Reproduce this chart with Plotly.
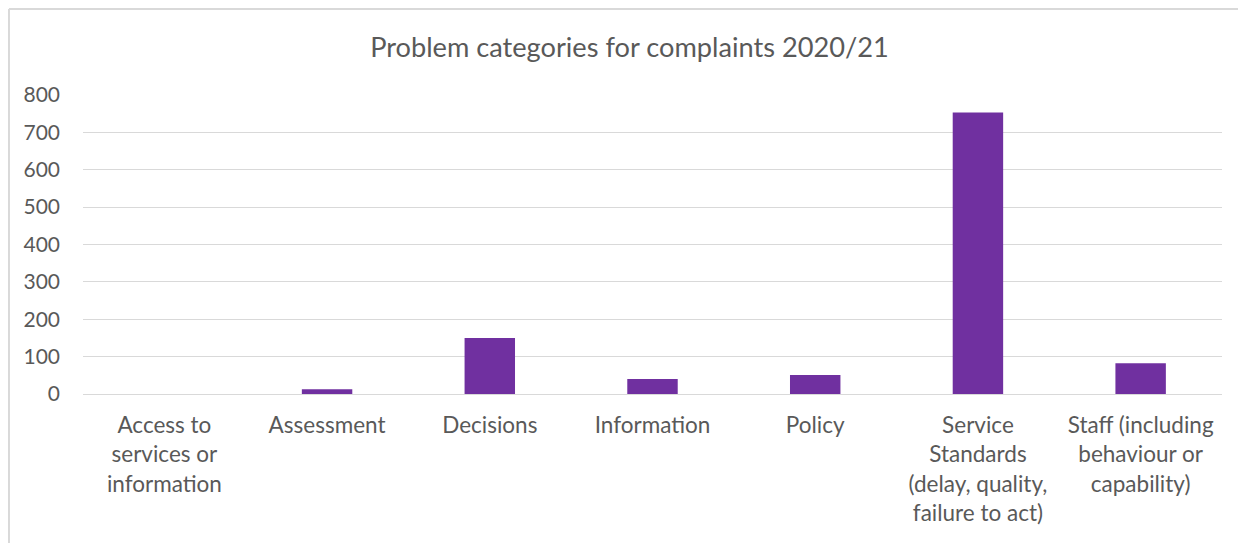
import plotly.graph_objects as go

# problem categories and number of complaints
categories = [
    "Access to<br>services or<br>information",
    "Assessment",
    "Decisions",
    "Information",
    "Policy",
    "Service<br>Standards<br>(delay, quality,<br>failure to act)",
    "Staff (including<br>behaviour or<br>capability)",
]
complaints = [0, 13, 150, 40, 51, 753, 82]
y_ticks = [0, 100, 200, 300, 400, 500, 600, 700, 800]

fig = go.Figure()
fig.add_trace(go.Bar(
    x=categories, y=complaints,
    marker=dict(color="#7030a0", line=dict(width=0)),
))

# page body adds an 8px margin, so the figure is sized to fit what remains
fig.update_layout(
    width=1238, height=535,
    margin=dict(l=75, r=24, t=87, b=149),
    paper_bgcolor="white", plot_bgcolor="white",
    font=dict(family="Lato, Open Sans, sans-serif", color="#595959", size=22),
    title=dict(text="Problem categories for complaints 2020/21", x=0.502, xanchor="center",
               y=0.927, yanchor="middle", font=dict(size=27.2, color="#595959")),
    bargap=0.69,
    showlegend=False,
)
fig.update_xaxes(showline=True, linecolor="#d9d9d9", linewidth=1, ticks="",
                 tickfont=dict(size=22.5), ticklabelstandoff=11)
fig.update_yaxes(range=[0, 800], tickvals=y_ticks, gridcolor="#d9d9d9", gridwidth=1,
                 zeroline=False, ticks="", tickfont=dict(size=21), ticklabelstandoff=22)

# outer chart border (left and top edges visible)
fig.add_shape(type="line", xref="paper", yref="paper", x0=-0.065, x1=-0.065, y0=-0.5, y1=1.2876,
              line=dict(color="#d9d9d9", width=2))
fig.add_shape(type="line", xref="paper", yref="paper", x0=-0.065, x1=1.05, y0=1.2876, y1=1.2876,
              line=dict(color="#d9d9d9", width=2))

fig.write_html("out.html")
